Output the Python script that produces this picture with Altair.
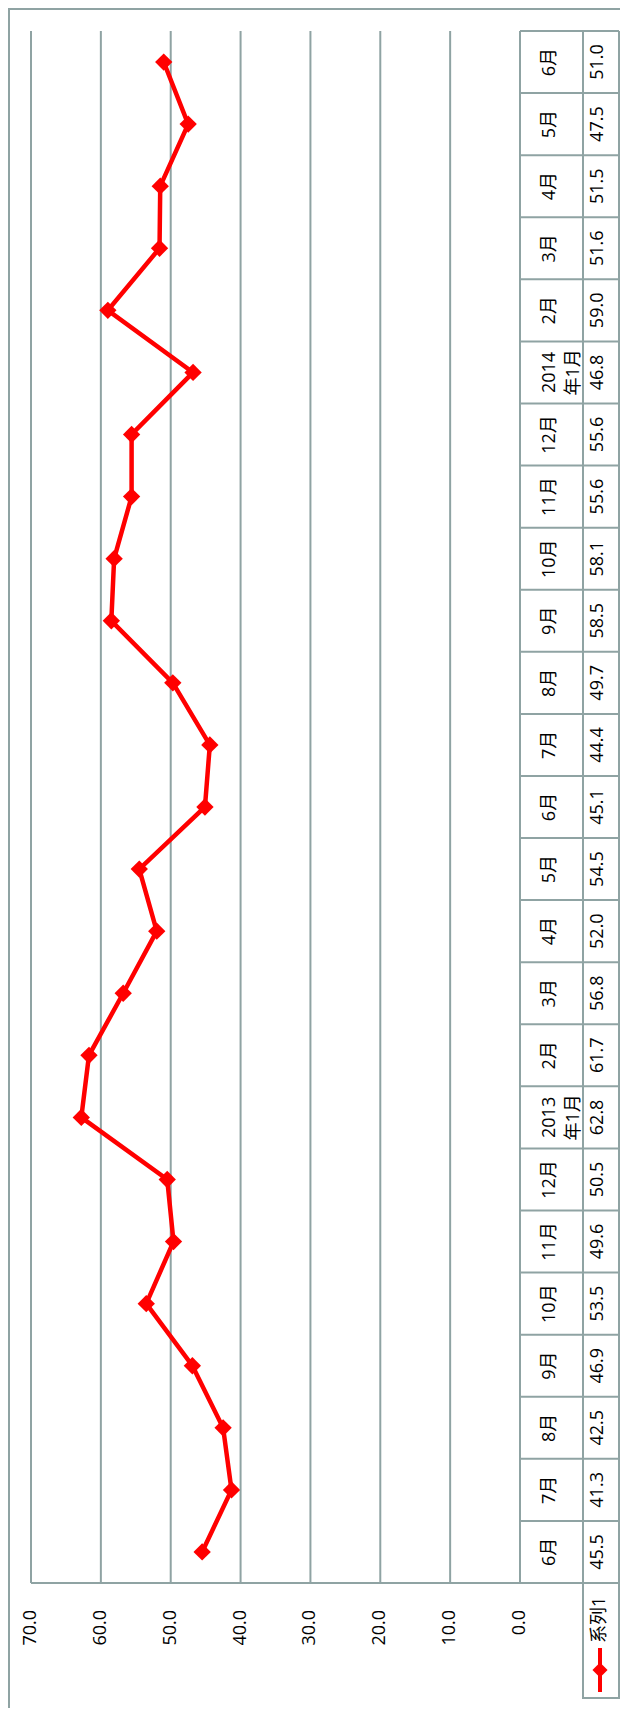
import altair as alt
import pandas as pd

# ---------------- data ----------------
months = ["6月", "7月", "8月", "9月", "10月", "11月", "12月",
          "2013\n年1月", "2月", "3月", "4月", "5月", "6月", "7月", "8月", "9月", "10月", "11月", "12月",
          "2014\n年1月", "2月", "3月", "4月", "5月", "6月"]
values = [45.5, 41.3, 42.5, 46.9, 53.5, 49.6, 50.5,
          62.8, 61.7, 56.8, 52.0, 54.5, 45.1, 44.4, 49.7, 58.5, 58.1, 55.6, 55.6,
          46.8, 59.0, 51.6, 51.5, 47.5, 51.0]
tick_values = [0, 10, 20, 30, 40, 50, 60, 70]
series_name = "系列1"

# ---------------- layout / style ----------------
W, H = 612, 1700
PLOT_LEFT, PLOT_RIGHT = 23, 512      # pixel range of value axis (70 -> 0)
PLOT_TOP, PLOT_BOTTOM = 23, 1575     # pixel range of category rows
COL_SPLIT, TABLE_RIGHT = 575, 611
GRID = "#8FA3A3"
RED = "#FF0000"
FONT = "Open Sans, Noto Sans CJK SC, sans-serif"
FS = 18

N = len(months)
df = pd.DataFrame({"label": months, "value": values, "idx": list(range(N))})
df["yc"] = df["idx"] + 0.5
grid_df = pd.DataFrame({"tick": tick_values})
bounds_df = pd.DataFrame({"b": list(range(N + 1))})
axis_df = pd.DataFrame({"x0": [max(tick_values)], "x1": [min(tick_values)], "y0": [0]})
legend_df = pd.DataFrame({"s": [series_name]})

xs = alt.Scale(domain=[min(tick_values), max(tick_values)], range=[PLOT_RIGHT, PLOT_LEFT], nice=False, zero=False)
ys = alt.Scale(domain=[0, N], range=[PLOT_BOTTOM, PLOT_TOP], nice=False, zero=False)

# gridlines (value axis)
grid = alt.Chart(grid_df).mark_rule(color=GRID, strokeWidth=2).encode(
    x=alt.X("tick:Q", scale=xs, axis=None),
    y=alt.YDatum(0, scale=ys, axis=None),
    y2=alt.datum(N),
)
# bottom axis line
axis_line = alt.Chart(axis_df).mark_rule(color=GRID, strokeWidth=2).encode(
    x=alt.X("x0:Q", scale=xs, axis=None),
    x2="x1:Q",
    y=alt.Y("y0:Q", scale=ys, axis=None),
)
# axis labels
axis_labels = alt.Chart(grid_df).mark_text(
    angle=270, align="right", baseline="middle", fontSize=FS, font=FONT, color="#000000"
).encode(
    x=alt.X("tick:Q", scale=xs, axis=None),
    y=alt.value(PLOT_BOTTOM + 27),
    text=alt.Text("tick:Q", format=".1f"),
)
# table horizontal lines
table_h = alt.Chart(bounds_df).mark_rule(color=GRID, strokeWidth=2).encode(
    y=alt.Y("b:Q", scale=ys, axis=None),
    x=alt.value(PLOT_RIGHT),
    x2=alt.value(TABLE_RIGHT),
)
# table vertical lines
table_v1 = alt.Chart(axis_df).mark_rule(color=GRID, strokeWidth=2).encode(
    x=alt.value(COL_SPLIT), y=alt.YDatum(0, scale=ys, axis=None), y2=alt.datum(N)
)
table_v2 = alt.Chart(axis_df).mark_rule(color=GRID, strokeWidth=2).encode(
    x=alt.value(TABLE_RIGHT), y=alt.YDatum(0, scale=ys, axis=None), y2=alt.datum(N)
)
# table texts
cat_text = alt.Chart(df).mark_text(
    angle=270, align="center", baseline="middle", fontSize=FS, font=FONT,
    lineBreak="\n", lineHeight=24, color="#000000"
).encode(
    x=alt.value((PLOT_RIGHT + COL_SPLIT) / 2 - 2),
    y=alt.Y("yc:Q", scale=ys, axis=None),
    text="label:N",
)
val_text = alt.Chart(df).mark_text(
    angle=270, align="center", baseline="middle", fontSize=FS, font=FONT, color="#000000"
).encode(
    x=alt.value((COL_SPLIT + TABLE_RIGHT) / 2 - 3),
    y=alt.Y("yc:Q", scale=ys, axis=None),
    text=alt.Text("value:Q", format=".1f"),
)
# series line and markers
line = alt.Chart(df).mark_line(color=RED, strokeWidth=4.5).encode(
    x=alt.X("value:Q", scale=xs, axis=None),
    y=alt.Y("yc:Q", scale=ys, axis=None),
    order="idx:Q",
)
points = alt.Chart(df).mark_point(shape="diamond", filled=True, size=300, color=RED, opacity=1).encode(
    x=alt.X("value:Q", scale=xs, axis=None),
    y=alt.Y("yc:Q", scale=ys, axis=None),
)
# legend cell
lx = (COL_SPLIT + TABLE_RIGHT) / 2 - 1
legend_box = alt.Chart(legend_df).mark_rect(fillOpacity=0, stroke=GRID, strokeWidth=2).encode(
    x=alt.value(COL_SPLIT), x2=alt.value(TABLE_RIGHT),
    y=alt.value(PLOT_BOTTOM), y2=alt.value(PLOT_BOTTOM + 115),
)
legend_line = alt.Chart(legend_df).mark_rule(color=RED, strokeWidth=4).encode(
    x=alt.value(lx), y=alt.value(PLOT_BOTTOM + 65), y2=alt.value(PLOT_BOTTOM + 109),
)
legend_pt = alt.Chart(legend_df).mark_point(shape="diamond", filled=True, size=230, color=RED, opacity=1).encode(
    x=alt.value(lx), y=alt.value(PLOT_BOTTOM + 87),
)
legend_text = alt.Chart(legend_df).mark_text(
    angle=270, align="left", baseline="middle", fontSize=FS, font=FONT, color="#000000"
).encode(
    x=alt.value(lx), y=alt.value(PLOT_BOTTOM + 60), text="s:N",
)
# outer frame (left and top edges)
frame_left = alt.Chart(legend_df).mark_rule(color=GRID, strokeWidth=2).encode(
    x=alt.value(1), y=alt.value(0), y2=alt.value(H),
)
frame_top = alt.Chart(legend_df).mark_rule(color=GRID, strokeWidth=2).encode(
    y=alt.value(1), x=alt.value(0), x2=alt.value(W),
)

chart = alt.layer(
    frame_left, frame_top, grid, axis_line, table_h, table_v1, table_v2,
    cat_text, val_text, axis_labels, line, points,
    legend_box, legend_line, legend_pt, legend_text,
).properties(
    width=W, height=H, padding=0,
    autosize=alt.AutoSizeParams(type="none"),
).configure_view(strokeWidth=0)

chart.save("out.html", embed_options={"renderer": "svg", "actions": False})
